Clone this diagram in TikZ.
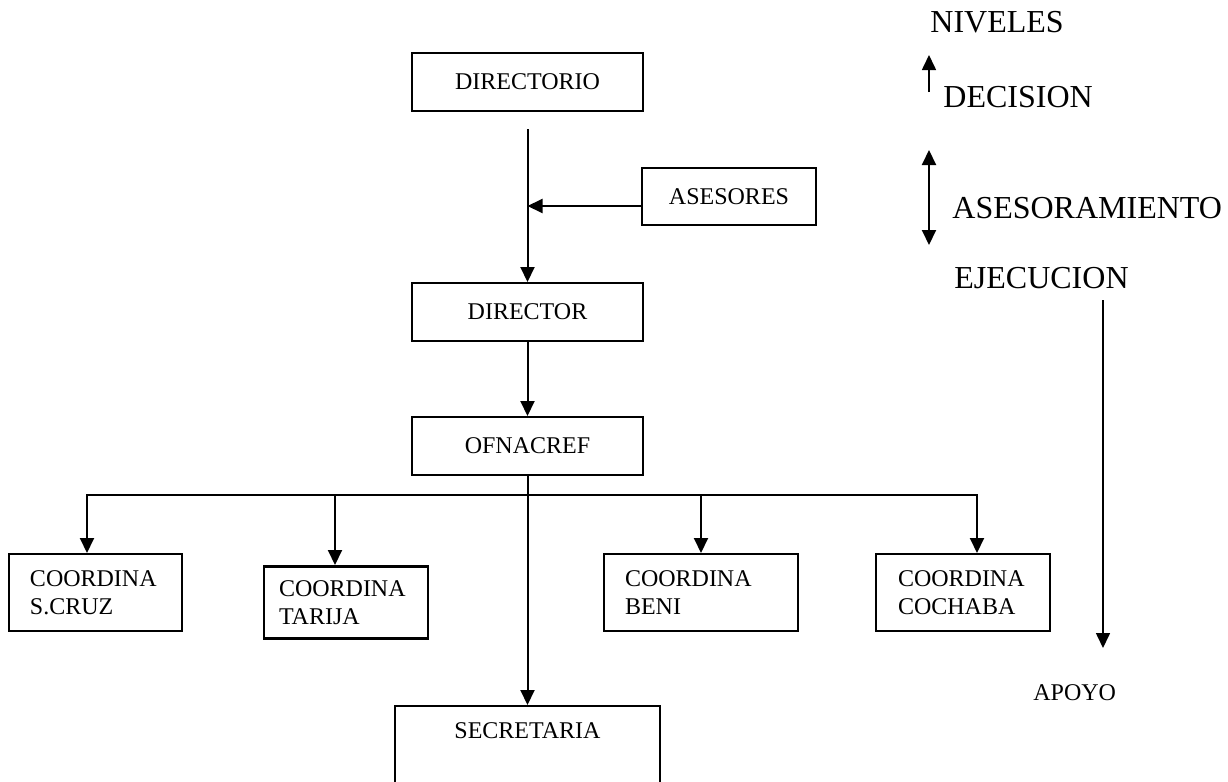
\documentclass[tikz,border=0pt]{standalone}
\usepackage{fontspec}
\setmainfont{Liberation Serif}
\usetikzlibrary{arrows.meta, positioning}
\tikzset{
  box/.style={rectangle, draw, line width=1pt, minimum height=29pt, minimum width=115.5pt, align=center, font=\fontsize{12}{14}\selectfont},
  coord/.style={rectangle, draw, line width=1pt, minimum height=38.5pt, inner xsep=10.5pt, align=left, anchor=north, font=\fontsize{12}{14}\selectfont},
  arrow/.style={-{Triangle[length=7.5pt, width=7pt]}, line width=1pt},
  level/.style={anchor=west, inner sep=0pt, font=\fontsize{16}{19}\selectfont},
}

\begin{document}
\begin{tikzpicture}[x=0.5pt, y=-0.5pt]
    \clip (0,0) rectangle (1228,782);
    \node[box] (directorio) at (527.5,82) {DIRECTORIO};
    \node[box, below=85pt of directorio] (director) {DIRECTOR};
    \node[box, below=37pt of director] (ofnacref) {OFNACREF};
    \node[box, minimum width=87pt, minimum height=28.5pt] (asesores) at (729,196.5) {ASESORES};
    \node[box, minimum width=132.5pt, inner ysep=7pt, text height=9pt, text depth=40pt, below=114.5pt of ofnacref] (secretaria) {SECRETARIA};
    \node[coord, text width=65.5pt] (scruz) at (95.5,553) {COORDINA\\S.CRUZ};
    \node[coord, text width=67pt, inner xsep=7.5pt, minimum height=36pt, line width=1.3pt] (tarija) at (346,565) {COORDINA\\TARIJA};
    \node[coord, text width=76pt] (beni) at (701,553) {COORDINA\\BENI};
    \node[coord, text width=65pt, inner xsep=11pt] (cochaba) at (963,553) {COORDINA\\COCHABA};
    % levels on the right
    \node[level] (niveles) at (930,22) {NIVELES};
    \node[level] (decision) at (943,97) {DECISION};
    \node[level] (asesoramiento) at (952,208) {ASESORAMIENTO};
    \node[level] (ejecucion) at (954,278) {EJECUCION};
    \node[level, font=\fontsize{12}{14}\selectfont] (apoyo) at (1033,693) {APOYO};
    % main line
    \coordinate[below=8.5pt of directorio] (dstart);
    \coordinate (asin) at ([yshift=-4.75pt]asesores.west);
    \draw[arrow] (dstart) -- (director);
    \draw[arrow] (asin) -- (asin -| director.north);
    \draw[arrow] (director) -- (ofnacref);
    \draw[arrow] (ofnacref) -- (secretaria);
    % branches
    \coordinate (busl) at (87,495);
    \coordinate (bust) at (335,495);
    \coordinate (busr) at (977,495);
    \draw[arrow] (bust) -- (busl) -- (busl |- scruz.north);
    \draw[arrow] (beni.north |- busl) -- (busr) -- (busr |- cochaba.north);
    \draw[line width=1pt] (bust) -- (beni.north |- busl);
    \draw[arrow] (bust) -- (bust |- tarija.north);
    \draw[arrow] (beni.north |- busl) -- (beni.north);
    % level arrows
    \coordinate (declow) at (929,92);
    \coordinate (decup) at (929,55);
    \coordinate (asetop) at (929,150);
    \coordinate (asebot) at (929,245);
    \coordinate (apotop) at (1103,300);
    \coordinate (apobot) at (1103,648);
    \draw[arrow, line width=0.8pt] (declow) -- (decup);
    \draw[{Triangle[length=7.5pt, width=7pt]}-{Triangle[length=7.5pt, width=7pt]}, line width=1pt] (asetop) -- (asebot);
    \draw[arrow, line width=0.8pt] (apotop) -- (apobot);
  \end{tikzpicture}
\end{document}
